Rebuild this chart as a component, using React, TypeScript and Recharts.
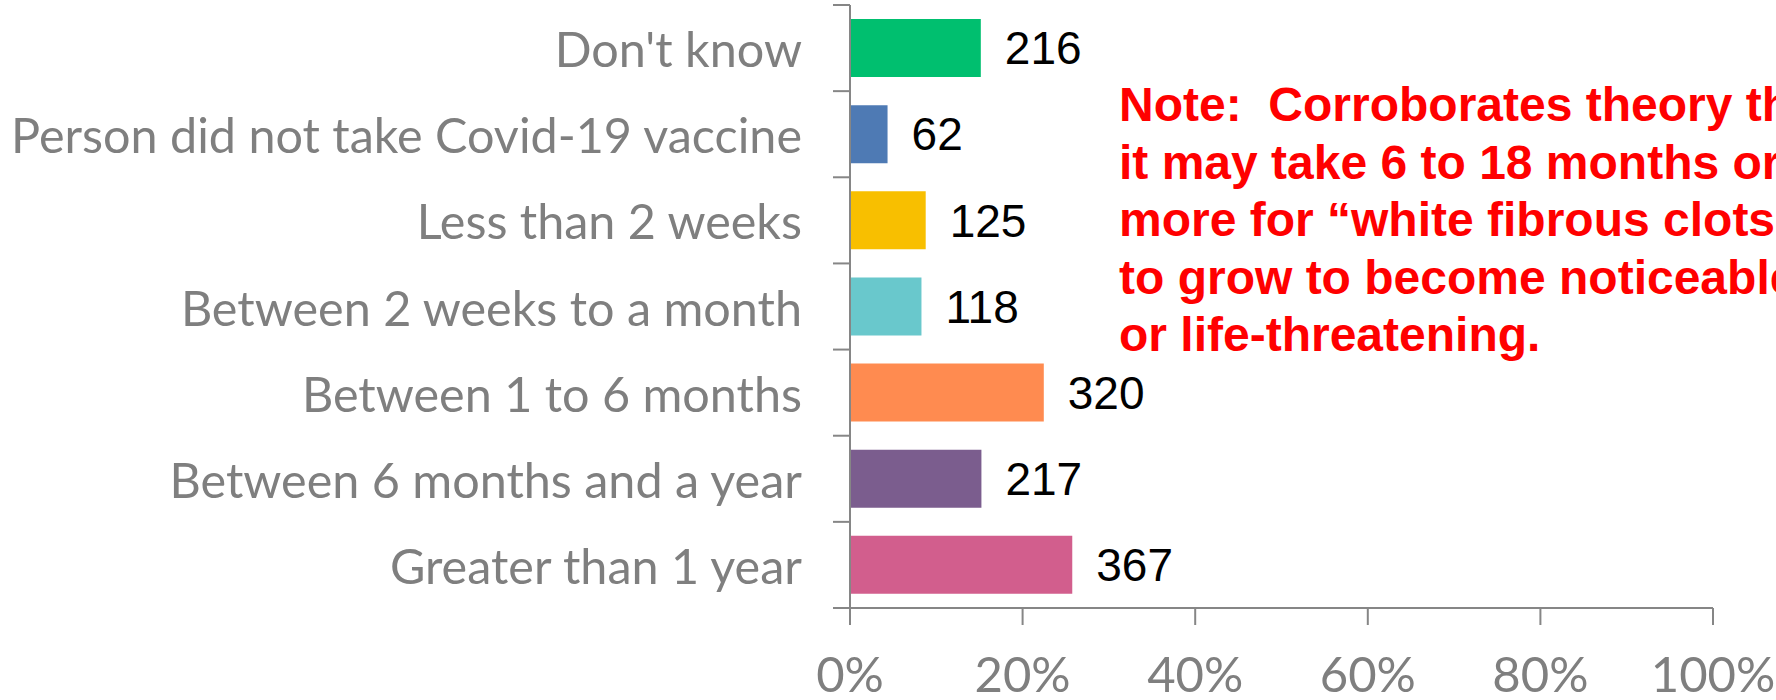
import { BarChart, Bar, XAxis, YAxis, Cell, LabelList } from "recharts";

const categories = [
  "Don't know",
  "Person did not take Covid-19 vaccine",
  "Less than 2 weeks",
  "Between 2 weeks to a month",
  "Between 1 to 6 months",
  "Between 6 months and a year",
  "Greater than 1 year",
];
const counts = [216, 62, 125, 118, 320, 217, 367];
const barColors = ["#00bf6f", "#4e7ab4", "#f8bf00", "#69c8cc", "#ff8b50", "#7b5d8e", "#d25e8d"];
const xTicks = [0, 0.2, 0.4, 0.6, 0.8, 1];
const noteLines = [
  "Note:  Corroborates theory that",
  "it may take 6 to 18 months or",
  "more for \u201cwhite fibrous clots\u201d",
  "to grow to become noticeable",
  "or life-threatening.",
];

const total = counts.reduce((s, v) => s + v, 0);
const data = categories.map((name, i) => ({ name, count: counts[i], share: counts[i] / total }));

const AXIS = "#868686";
const LABEL = "#7f7f7f";
const AXIS_X = 850;
const TICK_LEN = 17;
const labelFont = "Lato, 'Open Sans', sans-serif";

// category labels plus Excel-style tick marks on the band boundaries
function CategoryTick(props: any) {
  const { y, payload, index, visibleTicksCount } = props;
  const half = payload?.offset ?? 43;
  return (
    <g>
      <line x1={AXIS_X - TICK_LEN} x2={AXIS_X} y1={y - half} y2={y - half} stroke={AXIS} strokeWidth={2} />
      {index === visibleTicksCount - 1 && (
        <line x1={AXIS_X - TICK_LEN} x2={AXIS_X} y1={y + half} y2={y + half} stroke={AXIS} strokeWidth={2} />
      )}
      <text
        x={AXIS_X - 48}
        y={y}
        textAnchor="end"
        dominantBaseline="central"
        fill={LABEL}
        fontSize={48.5}
        fontFamily={labelFont}
      >
        {payload.value}
      </text>
    </g>
  );
}

function PercentTick(props: any) {
  const { x, payload } = props;
  return (
    <text x={x} y={673} textAnchor="middle" dominantBaseline="central" fill={LABEL} fontSize={49} fontFamily={labelFont}>
      {`${Math.round(payload.value * 100)}%`}
    </text>
  );
}

export default function App() {
  return (
    <div style={{ position: "absolute", left: 0, top: 0, width: 1776, height: 700, overflow: "hidden", background: "#fff" }}>
      <BarChart
        width={1776}
        height={700}
        data={data}
        layout="vertical"
        margin={{ top: 5, right: 63, bottom: 0, left: 0 }}
      >
        <XAxis
          type="number"
          domain={[0, 1]}
          ticks={xTicks}
          height={92}
          stroke={AXIS}
          strokeWidth={2}
          tickSize={TICK_LEN}
          tickLine={{ stroke: AXIS, strokeWidth: 2 }}
          tick={<PercentTick />}
          interval={0}
        />
        <YAxis
          type="category"
          dataKey="name"
          width={850}
          stroke={AXIS}
          strokeWidth={2}
          tickLine={false}
          tick={<CategoryTick />}
          interval={0}
        />
        <Bar dataKey="share" barSize={58} isAnimationActive={false}>
          {data.map((d, i) => (
            <Cell key={d.name} fill={barColors[i]} />
          ))}
          <LabelList
            dataKey="count"
            position="right"
            offset={24}
            fill="#000"
            fontSize={46}
            fontFamily="'Liberation Sans', Arial, sans-serif"
          />
        </Bar>
      </BarChart>
      <div
        style={{
          position: "absolute",
          left: 1119,
          top: 76,
          color: "#ff0000",
          fontFamily: "'Liberation Sans', Arial, sans-serif",
          fontWeight: 700,
          fontSize: 48,
          lineHeight: "57.5px",
          whiteSpace: "pre",
        }}
      >
        {noteLines.map((l) => (
          <div key={l}>{l}</div>
        ))}
      </div>
    </div>
  );
}
